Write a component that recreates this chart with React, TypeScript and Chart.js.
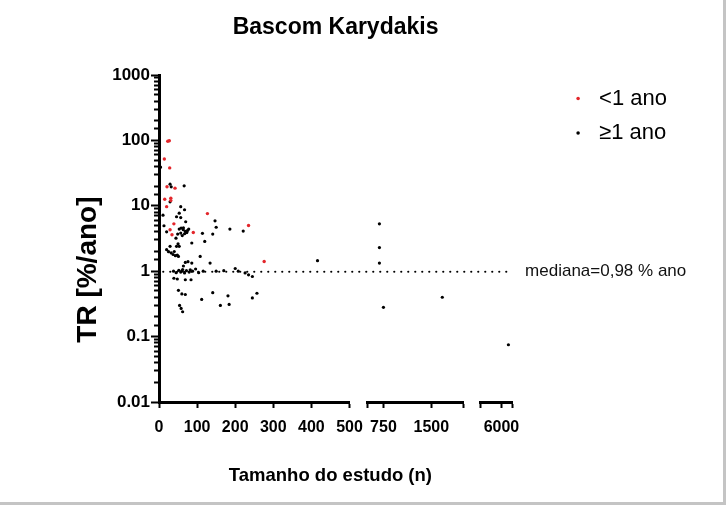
import { useEffect, useRef } from "react";
import { Chart, registerables } from "chart.js";

Chart.register(...registerables);

const TITLE = "Bascom Karydakis";
const Y_TITLE = "TR [%/ano]";
const X_TITLE = "Tamanho do estudo (n)";
const LEGEND_UNDER1 = "<1 ano";
const LEGEND_OVER1 = "≥1 ano";
const MEDIAN = 0.98;
const MEDIAN_LABEL = "mediana=0,98 % ano";

const Y_DECADES = [0.01, 0.1, 1, 10, 100, 1000];
const Y_DECADE_LABELS = ["0.01", "0.1", "1", "10", "100", "1000"];
const SEG1_TICKS = [0, 100, 200, 300, 400, 500];
const SEG2_TICKS = [500, 750, 1500, 2000];
const SEG2_LABELS = ["", "750", "1500", ""];
const SEG3_TICKS = [5400, 6000, 6300];
const SEG3_LABELS = ["", "6000", ""];

// < 1 ano (red)
const redN = [23, 27, 14, 28, 21, 42, 15, 31, 31, 20, 127, 39, 29, 34, 90, 235, 276];
const redTR = [97, 99, 52, 38, 19.6, 18.6, 12.6, 13.1, 12, 9.7, 7.6, 5.3, 4.3, 3.6, 3.9, 5.0, 1.41];

// >= 1 ano (black), segment 0-500
const blackN = [
  4, 29, 32, 66,
  29, 57, 67,
  10.5, 46, 53, 57,
  147, 70, 13,
  150, 186, 221, 20,
  53, 58, 63.6, 69, 57, 67, 73, 61, 64, 75, 49, 78,
  114, 141, 120, 86,
  44.5, 50, 46, 53, 29,
  20, 25, 32, 37, 43, 48, 51, 108, 40,
  134, 69, 76, 86, 64, 200, 416,
  38, 45, 52, 57, 62, 67, 72, 79, 88, 96, 104, 116, 150, 170, 208, 226, 235, 245, 60, 82,
  39, 48, 69, 84, 51, 60, 69, 141, 181, 112, 54, 58, 62, 161, 184, 245, 257,
];
const blackTR = [
  39, 21.4, 19.5, 20.2,
  11.5, 9.7, 8.7,
  7.2, 6.8, 7.7, 6.6,
  5.9, 5.7, 4.95,
  4.7, 4.4, 4.1, 4.0,
  4.4, 4.56, 4.3, 4.06, 3.83, 3.74, 3.9, 3.5, 4.6, 4.2, 3.7, 4.4,
  3.8, 3.7, 2.85, 2.7,
  3.2, 2.63, 2.4, 2.4, 2.4,
  2.13, 1.99, 1.9, 1.8, 1.73, 1.77, 1.68, 1.68, 2.0,
  1.33, 1.36, 1.4, 1.33, 1.2, 1.1, 1.45,
  1.0, 0.95, 1.03, 0.97, 1.06, 0.94, 1.02, 0.97, 1.0, 1.08, 0.95, 1.0, 1.0, 1.02, 1.0, 0.94, 0.88, 0.83, 1.0, 1.05,
  0.78, 0.76, 0.74, 0.74, 0.51, 0.45, 0.44, 0.47, 0.42, 0.37, 0.3, 0.27, 0.24, 0.3, 0.31, 0.39, 0.46,
];

// >= 1 ano, segment 500-2000
const black2N = [687, 687, 687, 750, 1672];
const black2TR = [5.3, 2.3, 1.33, 0.28, 0.4];

// >= 1 ano, segment around 6000
const black3N = [6196];
const black3TR = [0.075];

const SANS = '"Liberation Sans", Arial, sans-serif';

const pts = (xs: number[], ys: number[]) => xs.map((x, i) => ({ x, y: ys[i] }));

const isDecade = (val: number) => Y_DECADES.findIndex((d) => Math.abs(Math.log10(val) - Math.log10(d)) < 1e-6);

const tickFont = { family: SANS, size: 16, weight: "bold" as const };

const axisSeg = (min: number, max: number, weight: number, ticks: number[], labels?: string[]) => ({
  type: "linear" as const,
  position: "bottom" as const,
  stack: "xs",
  stackWeight: weight,
  min,
  max,
  border: { display: true, color: "#000", width: 3 },
  grid: { display: true, drawOnChartArea: false, drawTicks: true, tickLength: 6, tickWidth: 2, tickColor: "#000" },
  afterBuildTicks: (s: any) => {
    s.ticks = ticks.map((v) => ({ value: v }));
  },
  ticks: {
    autoSkip: false,
    maxRotation: 0,
    padding: 10.4,
    color: "#000",
    font: tickFont,
    callback: (v: any) => {
      const i = ticks.indexOf(Number(v));
      if (labels) return i >= 0 ? labels[i] : "";
      return String(v);
    },
  },
});

const spacer = (weight: number) => ({
  type: "linear" as const,
  position: "bottom" as const,
  stack: "xs",
  stackWeight: weight,
  min: 0,
  max: 1,
  border: { display: false },
  grid: { display: false, drawTicks: false, tickLength: 0 },
  ticks: { display: false },
});

const medianLabelPlugin = {
  id: "medianLabel",
  afterDraw(chart: any) {
    const { ctx, chartArea, scales } = chart;
    const y = scales.y.getPixelForValue(MEDIAN);
    ctx.save();
    ctx.font = `17px ${SANS}`;
    ctx.fillStyle = "#111";
    ctx.textBaseline = "middle";
    ctx.textAlign = "left";
    ctx.fillText(MEDIAN_LABEL, chartArea.right + 13, y);
    ctx.restore();
  },
};

export default function App() {
  const ref = useRef<HTMLCanvasElement>(null);
  useEffect(() => {
    document.body.style.margin = "0";
    const chart = new Chart(ref.current!, {
      type: "scatter",
      data: {
        datasets: [
          {
            label: LEGEND_UNDER1,
            data: pts(redN, redTR),
            xAxisID: "x1",
            yAxisID: "y",
            backgroundColor: "#e3262b",
            pointRadius: 1.7,
            pointHoverRadius: 1.7,
            borderWidth: 0,
            pointBorderWidth: 0,
            pointStyle: "circle",
          },
          {
            label: LEGEND_OVER1,
            data: pts(blackN, blackTR),
            xAxisID: "x1",
            yAxisID: "y",
            backgroundColor: "#000",
            pointRadius: 1.6,
            pointHoverRadius: 1.6,
            borderWidth: 0,
            pointBorderWidth: 0,
            pointStyle: "circle",
          },
          {
            label: LEGEND_OVER1 + " 2",
            data: pts(black2N, black2TR),
            xAxisID: "x2",
            yAxisID: "y",
            backgroundColor: "#000",
            pointRadius: 1.6,
            borderWidth: 0,
            pointBorderWidth: 0,
          },
          {
            label: LEGEND_OVER1 + " 3",
            data: pts(black3N, black3TR),
            xAxisID: "x3",
            yAxisID: "y",
            backgroundColor: "#000",
            pointRadius: 1.6,
            borderWidth: 0,
            pointBorderWidth: 0,
          },
          {
            label: "mediana",
            data: [
              { x: 0.012, y: MEDIAN },
              { x: 0.985, y: MEDIAN },
            ],
            xAxisID: "xm",
            yAxisID: "y",
            showLine: true,
            borderColor: "#000",
            borderWidth: 2.2,
            borderDash: [0, 7],
            borderCapStyle: "round",
            pointRadius: 0,
            pointHoverRadius: 0,
          } as any,
        ],
      },
      options: {
        responsive: false,
        animation: false,
        events: [],
        layout: { padding: { left: 67.2, right: 46, top: 0, bottom: 0 } },
        plugins: {
          title: {
            display: true,
            text: TITLE,
            color: "#000",
            fullSize: false,
            font: { family: SANS, size: 23, weight: "bold" },
            padding: { top: 14.2, bottom: 33.2 },
          },
          legend: {
            display: true,
            position: "right",
            align: "start",
            fullSize: false,
            maxWidth: 170,
            labels: {
              usePointStyle: true,
              boxWidth: 20,
              boxHeight: 2.5,
              padding: 12.5,
              color: "#000",
              font: { family: SANS, size: 22 },
              filter: (item: any) => item.datasetIndex <= 1,
            },
          },
          tooltip: { enabled: false },
        },
        scales: {
          y: {
            type: "logarithmic",
            position: "left",
            min: 0.01,
            max: 1000,
            border: { display: true, color: "#000", width: 3 },
            grid: {
              display: true,
              drawOnChartArea: false,
              drawTicks: true,
              tickLength: 8,
              tickWidth: 2,
              tickColor: "#000",
              tickBorderDash: (c: any) => (c.tick && isDecade(Number(c.tick.value)) >= 0 ? [] : [0, 3, 40]),
            },
            ticks: {
              autoSkip: false,
              padding: 1,
              color: "#000",
              font: { family: SANS, size: 17, weight: "bold" },
              callback: (v: any) => {
                const i = isDecade(Number(v));
                return i >= 0 ? Y_DECADE_LABELS[i] : "";
              },
            },
            title: {
              display: true,
              text: Y_TITLE + "\u00A0".repeat(8),
              color: "#000",
              font: { family: SANS, size: 28, weight: "bold" },
              padding: { top: 4, bottom: 6.4 },
            },
          },
          yr: {
            type: "linear",
            position: "right",
            display: false,
            grid: { display: false, drawTicks: false },
            border: { display: false },
            ticks: { display: false },
            afterFit: (s: any) => {
              s.width = 43.5;
            },
          },
          x1: axisSeg(0, 500, 191, SEG1_TICKS),
          g1: spacer(18),
          x2: axisSeg(500, 2000, 96, SEG2_TICKS, SEG2_LABELS),
          g2: spacer(17),
          x3: axisSeg(5400, 6300, 32, SEG3_TICKS, SEG3_LABELS),
          xm: {
            type: "linear",
            position: "bottom",
            min: 0,
            max: 1,
            grid: { display: false, drawTicks: false, tickLength: 0 },
            border: { display: false },
            ticks: { display: false },
            title: {
              display: true,
              text: X_TITLE + "\u00A0\u00A0",
              color: "#000",
              font: { family: SANS, size: 18.5, weight: "bold" },
              padding: { top: 16.9, bottom: 14.9 },
            },
          },
        } as any,
      },
      plugins: [medianLabelPlugin],
    });
    return () => chart.destroy();
  }, []);

  return (
    <div
      style={{
        position: "absolute",
        left: 0,
        top: 0,
        width: 723,
        height: 502,
        borderRight: "3px solid #c4c4c4",
        borderBottom: "3px solid #c4c4c4",
        background: "#fff",
      }}
    >
      <canvas ref={ref} width={723} height={502} style={{ display: "block", width: 723, height: 502 }} />
    </div>
  );
}
